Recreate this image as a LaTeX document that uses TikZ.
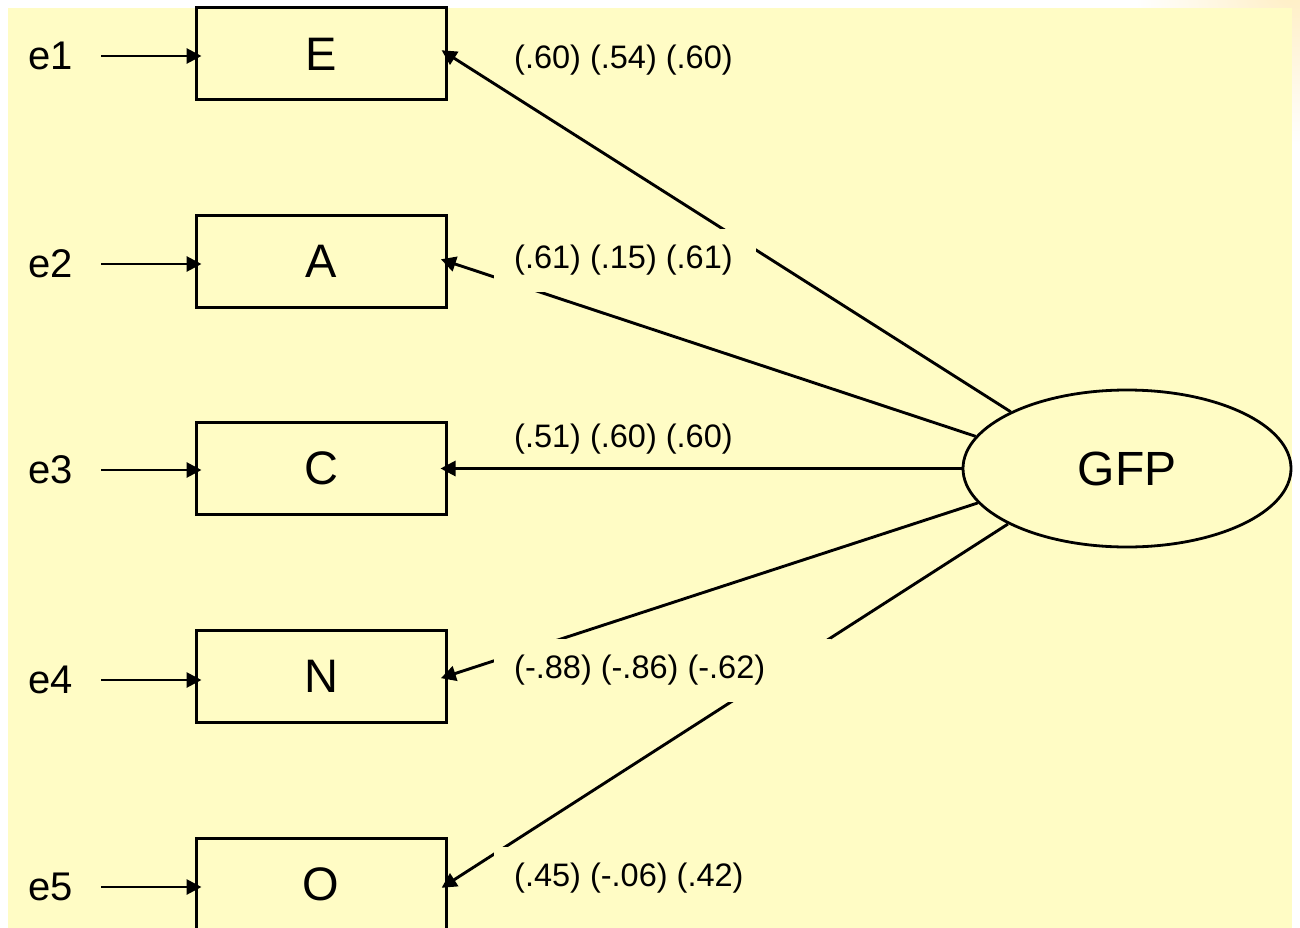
\documentclass[tikz,border=0pt]{standalone}
\usepackage{fontspec}
\setmainfont{Liberation Sans}
\usetikzlibrary{arrows.meta,shapes.geometric}
\definecolor{bg}{HTML}{FFFCC5}
\definecolor{glow}{HTML}{FFEEC2}
\begin{document}
\begin{tikzpicture}[x=1pt,y=-1pt,
  obs/.style={draw,line width=3pt,minimum width=250pt,minimum height=92pt,inner sep=0pt,font=\fontsize{47}{50}\selectfont},
  lat/.style={draw,ellipse,line width=2.8pt,minimum width=328pt,minimum height=157pt,inner sep=0pt,font=\fontsize{48}{52}\selectfont},
  err/.style={font=\fontsize{40}{44}\selectfont,inner sep=0pt},
  coef/.style={fill=bg,anchor=west,inner xsep=20pt,inner ysep=0pt,minimum height=63pt,font=\fontsize{32.5}{36}\selectfont},
  conn/.style={line width=2.9pt,shorten >=-7pt,-{Triangle[length=15pt,width=15pt]}}
]
\useasboundingbox (0,0) rectangle (1300,928);
\shade[inner color=glow,outer color=white] (1295,-15) circle (160);
\fill[bg] (8,8) rectangle (1292,928);

% observed variables
\node[obs] (E) at (321,54) {E};
\node[obs] (A) at (321,261.5) {A};
\node[obs] (C) at (321,468.5) {C};
\node[obs] (N) at (321,676) {N};
\node[obs] (O) at (321,884) {O};

% errors
\node[err] (e1) at (51,56) {e1};
\node[err] (e2) at (51,264) {e2};
\node[err] (e3) at (51,470) {e3};
\node[err] (e4) at (51,680) {e4};
\node[err] (e5) at (51,887) {e5};

\draw[conn] ([xshift=28pt]e1.east) -- (E.west |- e1.east);
\draw[conn] ([xshift=28pt]e2.east) -- (A.west |- e2.east);
\draw[conn] ([xshift=28pt]e3.east) -- (C.west |- e3.east);
\draw[conn] ([xshift=28pt]e4.east) -- (N.west |- e4.east);
\draw[conn] ([xshift=28pt]e5.east) -- (O.west |- e5.east);

% latent
\node[lat] (G) at (1127,468.5) {GFP};

\draw[conn] (G.154.8) -- (E.east);
\draw[conn] (G.168.2) -- (A.east);
\draw[conn] (G.180) -- (C.east);
\draw[conn] (G.193.2) -- (N.east);
\draw[conn] (G.205.6) -- (O.east);

% loadings
\node[coef,minimum height=44pt] (lE) at (494,60) {\makebox[222pt][l]{(.60) (.54) (.60)}};
\node[coef] (lA) at (494,260) {\makebox[222pt][l]{(.61) (.15) (.61)}};
\node[coef,minimum height=48pt] (lC) at (494,439) {\makebox[222pt][l]{(.51) (.60) (.60)}};
\node[coef] (lN) at (494,670) {\makebox[297pt][l]{(-.88) (-.86) (-.62)}};
\node[coef] (lO) at (494,878) {\makebox[222pt][l]{(.45) (-.06) (.42)}};
\end{tikzpicture}
\end{document}
